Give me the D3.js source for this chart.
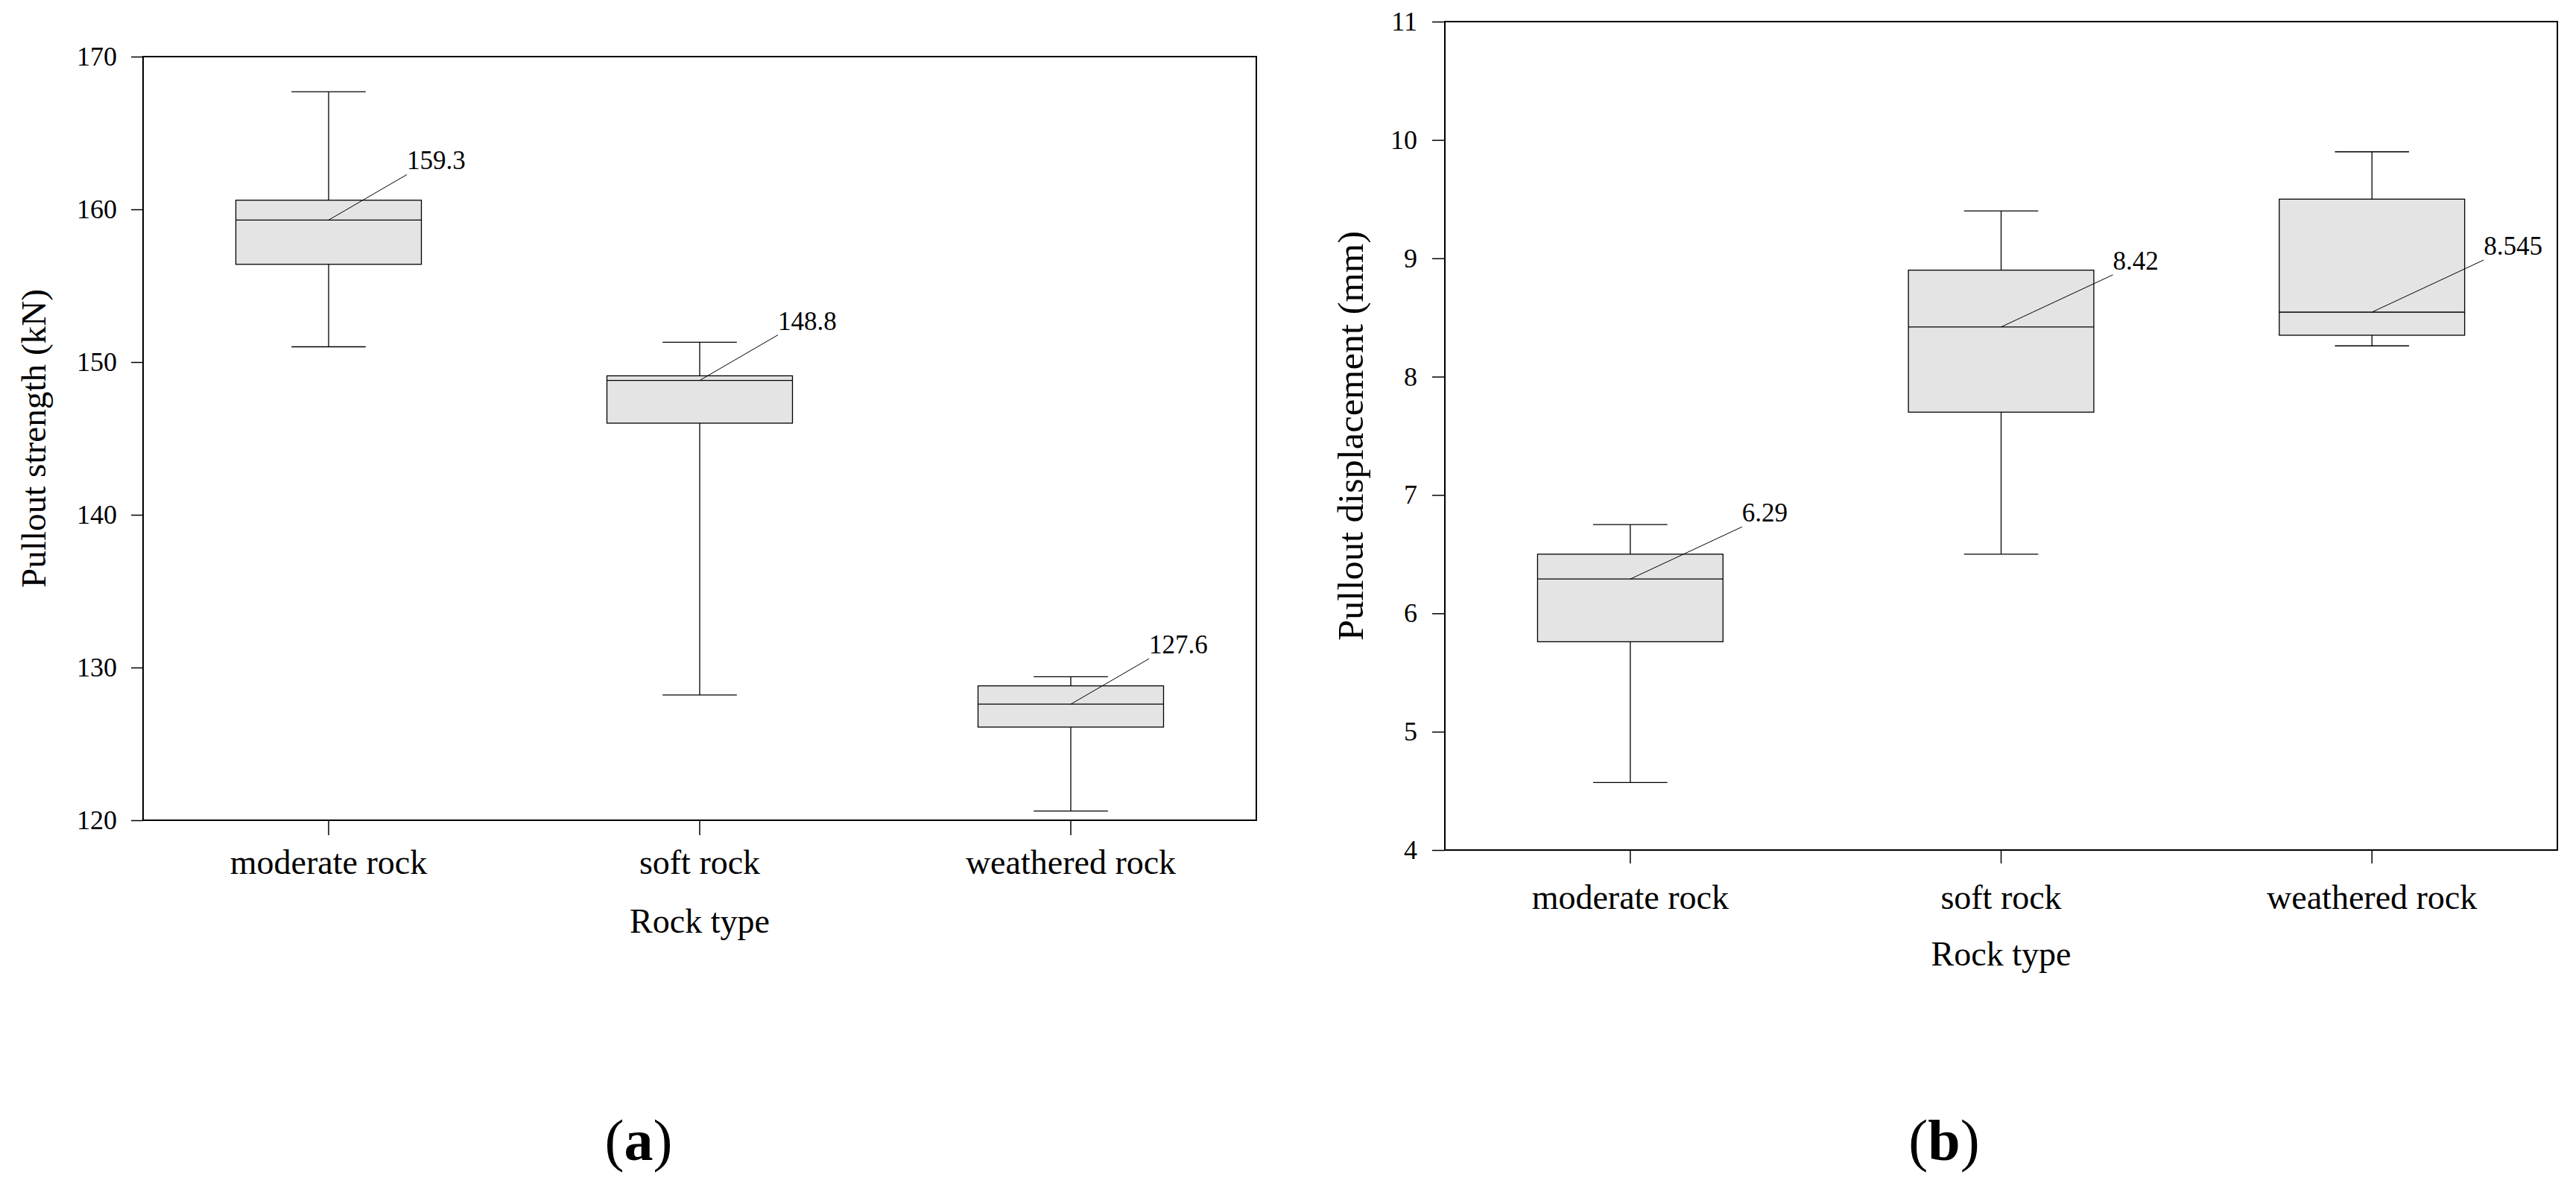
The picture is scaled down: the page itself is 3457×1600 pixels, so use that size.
<!DOCTYPE html>
<html>
<head>
<meta charset="utf-8">
<script src="https://cdn.jsdelivr.net/npm/d3@7"></script>
<style>
  body { margin: 0; background: #fff; }
  text { font-family: "Liberation Serif", "Times New Roman", serif; fill: #000; }
</style>
</head>
<body>
<div id="chart"></div>
<script>
// categories
var rockTypes = ["moderate rock", "soft rock", "weathered rock"];

// (a) pullout strength, kN
var strengthMin = [151.0, 128.2, 120.6];
var strengthQ1 = [156.4, 146.0, 126.1];
var strengthMedian = [159.3, 148.8, 127.6];
var strengthQ3 = [160.6, 149.1, 128.8];
var strengthMax = [167.7, 151.3, 129.4];
var strengthTicks = [120, 130, 140, 150, 160, 170];

// (b) pullout displacement, mm
var dispMin = [4.57, 6.5, 8.26];
var dispQ1 = [5.76, 7.7, 8.35];
var dispMedian = [6.29, 8.42, 8.545];
var dispQ3 = [6.5, 8.9, 9.5];
var dispMax = [6.75, 9.4, 9.9];
var dispTicks = [4, 5, 6, 7, 8, 9, 10, 11];

function init() {
    var w = 3457;
    var h = 1600;

    var svg = d3.select("#chart")
        .append("svg")
        .attr("width", w)
        .attr("height", h);

    svg.append("rect").attr("width", w).attr("height", h).attr("fill", "#fff");

    var panels = [
        {
            left: 192, right: 1686, top: 76, bottom: 1101,
            domain: [120, 170], ticks: strengthTicks,
            min: strengthMin, q1: strengthQ1, med: strengthMedian, q3: strengthQ3, max: strengthMax,
            yTickLen: 16, yTickPad: 19, xTickLen: 20, xLabelOff: 72, titleOff: 151,
            leadDx: 105, leadDy: -61,
            yTitle: "Pullout strength (kN)", yTitleX: 61, yTitleSize: 47, yTitleLen: 401,
            tag: "a", tagX: 857
        },
        {
            left: 1939, right: 3432, top: 29, bottom: 1141,
            domain: [4, 11], ticks: dispTicks,
            min: dispMin, q1: dispQ1, med: dispMedian, q3: dispQ3, max: dispMax,
            yTickLen: 17, yTickPad: 20, xTickLen: 18, xLabelOff: 79, titleOff: 155,
            leadDx: 150, leadDy: -70,
            yTitle: "Pullout displacement (mm)", yTitleX: 1829, yTitleSize: 49, yTitleLen: 550,
            tag: "b", tagX: 2609
        }
    ];

    panels.forEach(function(p) {
        var g = svg.append("g");

        var xScale = d3.scaleBand()
            .domain(rockTypes)
            .range([p.left, p.right]);
        var yScale = d3.scaleLinear()
            .domain(p.domain)
            .range([p.bottom, p.top]);

        var bw = xScale.bandwidth();
        var cx = function(d) { return xScale(d) + bw / 2; };

        // Y axis
        var yAxis = g.append("g")
            .attr("transform", "translate(" + p.left + ",0)")
            .call(d3.axisLeft(yScale)
                .tickValues(p.ticks)
                .tickFormat(d3.format("d"))
                .tickSize(p.yTickLen)
                .tickPadding(p.yTickPad));
        yAxis.select(".domain").remove();
        yAxis.selectAll("line").attr("stroke", "#000").attr("stroke-width", 1.5);
        yAxis.selectAll("text")
            .attr("font-family", "Liberation Serif")
            .attr("font-size", 36)
            .attr("fill", "#000");

        // X axis
        var xAxis = g.append("g")
            .attr("transform", "translate(0," + p.bottom + ")")
            .call(d3.axisBottom(xScale).tickSize(p.xTickLen));
        xAxis.select(".domain").remove();
        xAxis.selectAll("line").attr("stroke", "#000").attr("stroke-width", 1.5);
        xAxis.selectAll("text")
            .attr("font-family", "Liberation Serif")
            .attr("font-size", 46)
            .attr("fill", "#000")
            .attr("y", p.xLabelOff)
            .attr("dy", null);

        // Frame
        g.append("rect")
            .attr("x", p.left)
            .attr("y", p.top)
            .attr("width", p.right - p.left)
            .attr("height", p.bottom - p.top)
            .attr("fill", "none")
            .attr("stroke", "#000")
            .attr("stroke-width", 2);

        var boxes = rockTypes.map(function(r, i) {
            return { cat: r, min: p.min[i], q1: p.q1[i], med: p.med[i], q3: p.q3[i], max: p.max[i] };
        });

        var bg = g.selectAll(".box")
            .data(boxes)
            .enter()
            .append("g")
            .attr("class", "box");

        // whiskers
        bg.append("line")
            .attr("x1", d => cx(d.cat)).attr("x2", d => cx(d.cat))
            .attr("y1", d => yScale(d.q3)).attr("y2", d => yScale(d.max))
            .attr("stroke", "#000").attr("stroke-width", 1.3);
        bg.append("line")
            .attr("x1", d => cx(d.cat)).attr("x2", d => cx(d.cat))
            .attr("y1", d => yScale(d.q1)).attr("y2", d => yScale(d.min))
            .attr("stroke", "#000").attr("stroke-width", 1.3);
        ["min", "max"].forEach(function(k) {
            bg.append("line")
                .attr("x1", d => cx(d.cat) - bw * 0.1).attr("x2", d => cx(d.cat) + bw * 0.1)
                .attr("y1", d => yScale(d[k])).attr("y2", d => yScale(d[k]))
                .attr("stroke", "#000").attr("stroke-width", 1.3);
        });

        // box
        bg.append("rect")
            .attr("x", d => cx(d.cat) - bw * 0.25)
            .attr("width", bw * 0.5)
            .attr("y", d => yScale(d.q3))
            .attr("height", d => yScale(d.q1) - yScale(d.q3))
            .attr("fill", "#e4e4e4")
            .attr("stroke", "#000")
            .attr("stroke-width", 1.3);

        // median
        bg.append("line")
            .attr("x1", d => cx(d.cat) - bw * 0.25).attr("x2", d => cx(d.cat) + bw * 0.25)
            .attr("y1", d => yScale(d.med)).attr("y2", d => yScale(d.med))
            .attr("stroke", "#000").attr("stroke-width", 1.3);

        // median leader line and label
        bg.append("line")
            .attr("x1", d => cx(d.cat)).attr("y1", d => yScale(d.med))
            .attr("x2", d => cx(d.cat) + p.leadDx).attr("y2", d => yScale(d.med) + p.leadDy)
            .attr("stroke", "#000").attr("stroke-width", 1);
        bg.append("text")
            .attr("x", d => cx(d.cat) + p.leadDx)
            .attr("y", d => yScale(d.med) + p.leadDy - 7)
            .attr("font-size", 35)
            .text(d => String(d.med));

        // axis titles
        g.append("text")
            .attr("text-anchor", "middle")
            .attr("x", (p.left + p.right) / 2)
            .attr("y", p.bottom + p.titleOff)
            .attr("font-size", 46)
            .text("Rock type");

        g.append("text")
            .attr("text-anchor", "middle")
            .attr("transform", "translate(" + p.yTitleX + "," + (p.top + p.bottom) / 2 + ") rotate(-90)")
            .attr("font-size", p.yTitleSize)
            .attr("textLength", p.yTitleLen)
            .attr("lengthAdjust", "spacingAndGlyphs")
            .text(p.yTitle);

        // panel tag
        var tag = g.append("text")
            .attr("text-anchor", "middle")
            .attr("x", p.tagX)
            .attr("y", 1557)
            .attr("font-size", 78);
        tag.append("tspan").text("(");
        tag.append("tspan").attr("font-weight", "bold").text(p.tag);
        tag.append("tspan").text(")");
    });
}

window.onload = init;
</script>
</body>
</html>
